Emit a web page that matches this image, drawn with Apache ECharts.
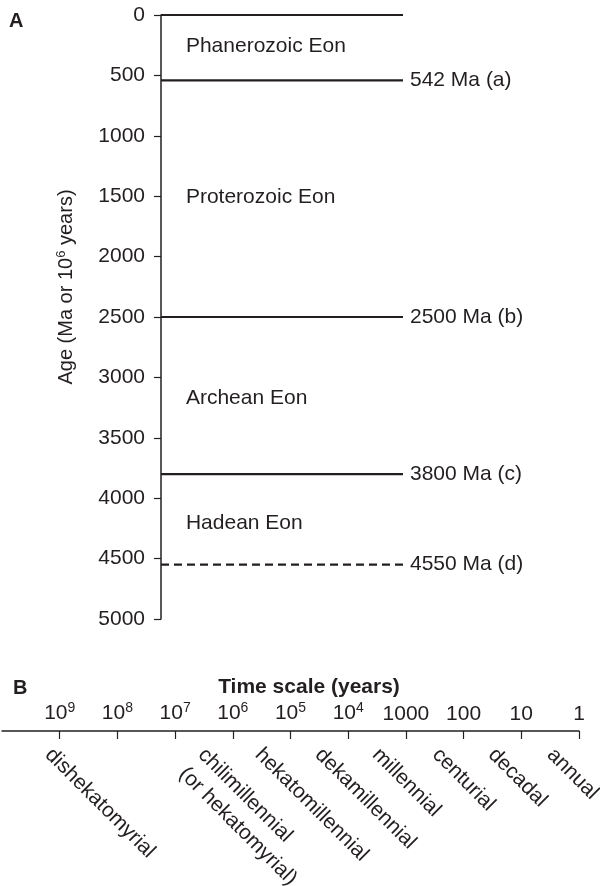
<!DOCTYPE html>
<html>
<head>
<meta charset="utf-8">
<script src="https://cdn.jsdelivr.net/npm/echarts@6/dist/echarts.min.js"></script>
<style>
  html, body { margin: 0; padding: 0; background: #fff; }
  #chart { width: 600px; height: 886px; }
</style>
</head>
<body>
<div id="chart"></div>
<script>
// panel A: eon boundaries (Ma)
const boundaries = [0, 542, 2500, 3800, 4550];
const boundaryLabels = ['', '542 Ma (a)', '2500 Ma (b)', '3800 Ma (c)', '4550 Ma (d)'];
const boundaryDashed = [false, false, false, false, true];
const eonNames = ['Phanerozoic Eon', 'Proterozoic Eon', 'Archean Eon', 'Hadean Eon'];
const eonAges = [260, 1510, 3175, 4205];

// panel B: time scale, log10(years)
const scaleTicks = [9, 8, 7, 6, 5, 4, 3, 2, 1, 0];
const scaleNames = ['dishekatomyrial', 'chilimillennial\n(or hekatomyrial)', 'hekatomillennial',
  'dekamillennial', 'millennial', 'centurial', 'decadal', 'annual'];
const scalePos = [9.03, 6.38, 5.39, 4.35, 3.36, 2.32, 1.35, 0.33];

const ink = '#231f20';
const font = '"Liberation Sans", Arial, sans-serif';

const chart = echarts.init(document.getElementById('chart'));

const series = [];
boundaries.forEach(function (v, i) {
  series.push({
    type: 'line',
    xAxisIndex: 0,
    yAxisIndex: 0,
    symbol: 'none',
    silent: true,
    data: [[0, v], [1, v]],
    lineStyle: { color: ink, width: 2.2, type: boundaryDashed[i] ? [8, 5] : 'solid' },
    endLabel: {
      show: boundaryLabels[i] !== '',
      formatter: boundaryLabels[i],
      color: ink,
      fontSize: 21,
      fontFamily: font,
      distance: 7
    }
  });
});

series.push({
  type: 'scatter',
  xAxisIndex: 0,
  yAxisIndex: 0,
  symbolSize: 0,
  silent: true,
  itemStyle: { opacity: 1 },
  data: eonNames.map((n, i) => ({ value: [0.103, eonAges[i]], name: n })),
  label: {
    show: true,
    position: 'inside',
    align: 'left',
    verticalAlign: 'middle',
    formatter: p => p.name,
    color: ink,
    fontSize: 21,
    fontFamily: font
  }
});

series.push({
  type: 'scatter',
  xAxisIndex: 1,
  yAxisIndex: 1,
  symbolSize: 0,
  silent: true,
  itemStyle: { opacity: 1 },
  data: scaleNames.map((n, i) => ({ value: [scalePos[i], 1], name: n })),
  label: {
    show: true,
    position: 'inside',
    align: 'left',
    verticalAlign: 'top',
    rotate: -45,
    offset: [7.8, 7.8],
    lineHeight: 27,
    formatter: p => p.name,
    color: ink,
    fontSize: 21,
    fontFamily: font
  }
});

chart.setOption({
  backgroundColor: '#fff',
  animation: false,
  title: [
    { text: 'A', left: 4, top: 6, textStyle: { fontSize: 20, fontWeight: 'bold', color: ink, fontFamily: font } },
    { text: 'B', left: 8, top: 673, textStyle: { fontSize: 20, fontWeight: 'bold', color: ink, fontFamily: font } }
  ],
  grid: [
    { left: 161, top: 15, width: 242, height: 604 },
    { left: 2, top: 731, width: 577, height: 140 }
  ],
  xAxis: [
    { gridIndex: 0, type: 'value', min: 0, max: 1, show: false },
    {
      gridIndex: 1,
      type: 'value',
      min: 0,
      max: 10,
      inverse: true,
      position: 'top',
      name: 'Time scale (years)',
      nameLocation: 'middle',
      nameGap: 33,
      nameTextStyle: { fontSize: 21, fontWeight: 'bold', color: ink, fontFamily: font, padding: [0, 0, 0, 37] },
      axisLine: { show: true, onZero: false, lineStyle: { color: ink, width: 1.5 } },
      axisTick: { show: true, inside: true, length: 8, lineStyle: { color: ink, width: 1.2 }, customValues: scaleTicks },
      splitLine: { show: false },
      axisLabel: {
        customValues: scaleTicks,
        margin: 6,
        color: ink,
        fontSize: 21,
        fontFamily: font,
        formatter: v => v >= 4 ? '{b|10}{s|' + v + '}' : String(Math.pow(10, v)),
        rich: {
          b: { fontSize: 21, fontFamily: font, color: ink },
          s: { fontSize: 14, fontFamily: font, color: ink, padding: [0, 0, 10, 0] }
        }
      }
    }
  ],
  yAxis: [
    {
      gridIndex: 0,
      type: 'value',
      min: 0,
      max: 5000,
      interval: 500,
      inverse: true,
      name: '{t|Age (Ma or 10}{s|6}{t| years)}',
      nameLocation: 'middle',
      nameRotate: 90,
      nameGap: 84,
      nameTextStyle: {
        padding: [0, 0, 0, 60],
        rich: {
          t: { fontSize: 20, fontFamily: font, color: ink },
          s: { fontSize: 13, fontFamily: font, color: ink, padding: [0, 0, 9, 0] }
        }
      },
      axisLine: { show: true, onZero: false, lineStyle: { color: ink, width: 1.5 } },
      axisTick: { show: true, length: 7, lineStyle: { color: ink, width: 1.2 } },
      splitLine: { show: false },
      axisLabel: { margin: 16, color: ink, fontSize: 21, fontFamily: font, formatter: v => String(v) }
    },
    { gridIndex: 1, type: 'value', min: 0, max: 1, show: false }
  ],
  series: series
});
</script>
</body>
</html>
